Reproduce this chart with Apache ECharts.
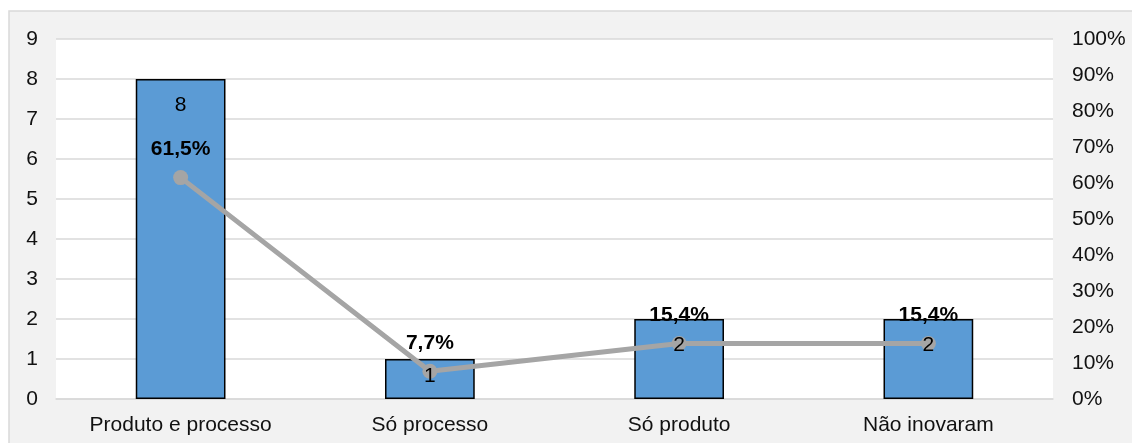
<!DOCTYPE html>
<html>
<head>
<meta charset="utf-8">
<script src="https://cdn.jsdelivr.net/npm/echarts@6/dist/echarts.min.js"></script>
<style>
  html, body { margin: 0; padding: 0; background: #ffffff; }
  #chart { width: 1132px; height: 443px; }
</style>
</head>
<body>
<div id="chart"></div>
<script>
// Innovation type: number of firms (bars) and share of total (line)
const categories = ['Produto e processo', 'Só processo', 'Só produto', 'Não inovaram'];
const counts = [8, 1, 2, 2];
const shares = [0.615, 0.077, 0.154, 0.154];
const countTicks = { min: 0, max: 9, interval: 1 };
const shareTicks = { min: 0, max: 1, interval: 0.1 };

const FONT = '"Liberation Sans", Arial, sans-serif';
const FS = 21;
const fmtPct = (v, d) => (v * 100).toFixed(d).replace('.', ',') + '%';

const chart = echarts.init(document.getElementById('chart'), null, { renderer: 'canvas' });

const barLabel = {
  show: true, position: 'insideTop',
  color: '#000', fontSize: FS, fontFamily: FONT
};

chart.setOption({
  animation: false,
  textStyle: { fontFamily: FONT },
  graphic: [{
    type: 'rect',
    z: -10,
    shape: { x: 9, y: 11, width: 1140, height: 450 },
    style: { fill: '#f2f2f2', stroke: '#d9d9d9', lineWidth: 1.5 }
  }],
  grid: {
    left: 56, right: 79, top: 39, bottom: 44,
    show: true, backgroundColor: '#ffffff', borderWidth: 0
  },
  xAxis: {
    type: 'category',
    data: categories,
    axisTick: { show: false },
    axisLine: { lineStyle: { color: '#d9d9d9', width: 1.5 } },
    axisLabel: { color: '#111', fontSize: FS, fontFamily: FONT, margin: 16 }
  },
  yAxis: [{
    type: 'value',
    min: countTicks.min, max: countTicks.max, interval: countTicks.interval,
    axisLine: { show: false }, axisTick: { show: false },
    splitLine: { lineStyle: { color: '#d9d9d9', width: 1.5 } },
    axisLabel: { color: '#111', fontSize: FS, fontFamily: FONT, margin: 18 }
  }, {
    type: 'value',
    min: shareTicks.min, max: shareTicks.max, interval: shareTicks.interval,
    position: 'right',
    axisLine: { show: false }, axisTick: { show: false },
    splitLine: { show: false },
    axisLabel: { color: '#111', fontSize: FS, fontFamily: FONT, margin: 19,
      formatter: v => fmtPct(v, 0) }
  }],
  series: [{
    // the bars themselves
    type: 'bar',
    yAxisIndex: 0,
    barWidth: '36%',
    data: counts,
    itemStyle: { color: '#5b9bd5', borderColor: '#000000', borderWidth: 1.5 },
    z: 2
  }, {
    // share of total
    type: 'line',
    yAxisIndex: 1,
    data: shares,
    symbol: 'circle',
    symbolSize: 15,
    lineStyle: { color: '#a5a5a5', width: 5 },
    itemStyle: { color: '#a5a5a5' },
    label: {
      show: true, position: 'top', distance: 10,
      color: '#000', fontSize: FS, fontWeight: 'bold', fontFamily: FONT,
      formatter: p => fmtPct(p.value, 1)
    },
    z: 3
  }, {
    // count labels, kept above the line
    type: 'bar',
    yAxisIndex: 0,
    barWidth: '36%',
    barGap: '-100%',
    silent: true,
    data: counts.map(v => ({
      value: v,
      label: { distance: v < 1.5 ? 7 : 16 }
    })),
    itemStyle: { color: 'rgba(0,0,0,0)' },
    label: barLabel,
    z: 4
  }]
});
</script>
</body>
</html>
